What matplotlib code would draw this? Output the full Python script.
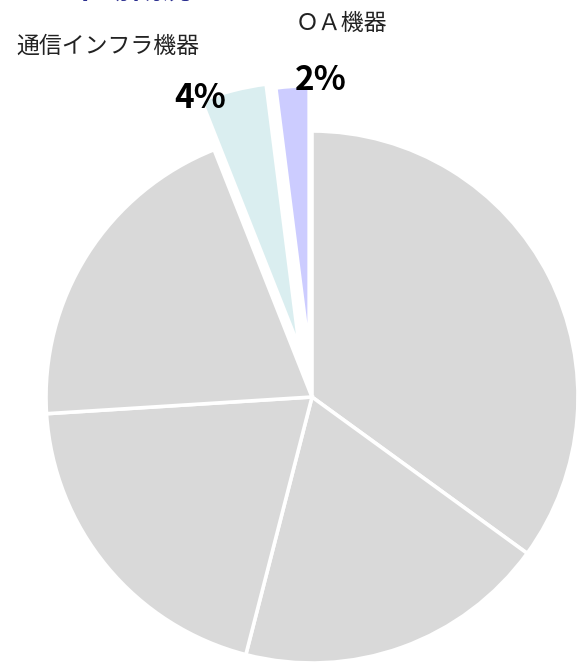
import matplotlib.pyplot as plt

# slice values (percent), clockwise from 12 o'clock
values = [35, 19, 20, 20, 4, 2]
colors = ['#d9d9d9', '#d9d9d9', '#d9d9d9', '#d9d9d9', '#daeef0', '#ccccff']
explode = [0, 0, 0, 0, 0.19, 0.17]

label_names = ['通信インフラ機器', 'ＯＡ機器']
label_pcts = ['4%', '2%']

plt.rcParams['font.family'] = ['Noto Sans CJK JP', 'DejaVu Sans']

W, H = 577, 662
fig = plt.figure(figsize=(W / 100, H / 100), dpi=100)
ax = fig.add_axes([0, 0, 1, 1])

ax.pie(values, colors=colors, explode=explode, startangle=90,
       counterclock=False, radius=1,
       wedgeprops=dict(edgecolor='white', linewidth=2.6))

# pie centre at pixel (312, 397), radius 266 px
cx, cy, r = 312, 397, 266
ax.set_xlim(-cx / r, (W - cx) / r)
ax.set_ylim(-(H - cy) / r, cy / r)
ax.set_aspect('auto')
ax.axis('off')

# title sits mostly above the top edge, only its foot shows
fig.text(131 / W, 1 + 10 / H, '市場概況', ha='center', va='center',
         fontsize=22, fontweight='bold', color='#2b2f8f')

fig.text(108 / W, 1 - 46 / H, label_names[0], ha='center', va='center',
         fontsize=16.5, color='#222222')
fig.text(341 / W, 1 - 24 / H, label_names[1], ha='center', va='center',
         fontsize=16.5, color='#222222')
fig.text(200 / W, 1 - 98 / H, label_pcts[0], ha='center', va='center',
         fontsize=24, fontweight='bold', color='black')
fig.text(321 / W, 1 - 80 / H, label_pcts[1], ha='center', va='center',
         fontsize=24, fontweight='bold', color='black')

fig.savefig('out.png', dpi=100)
